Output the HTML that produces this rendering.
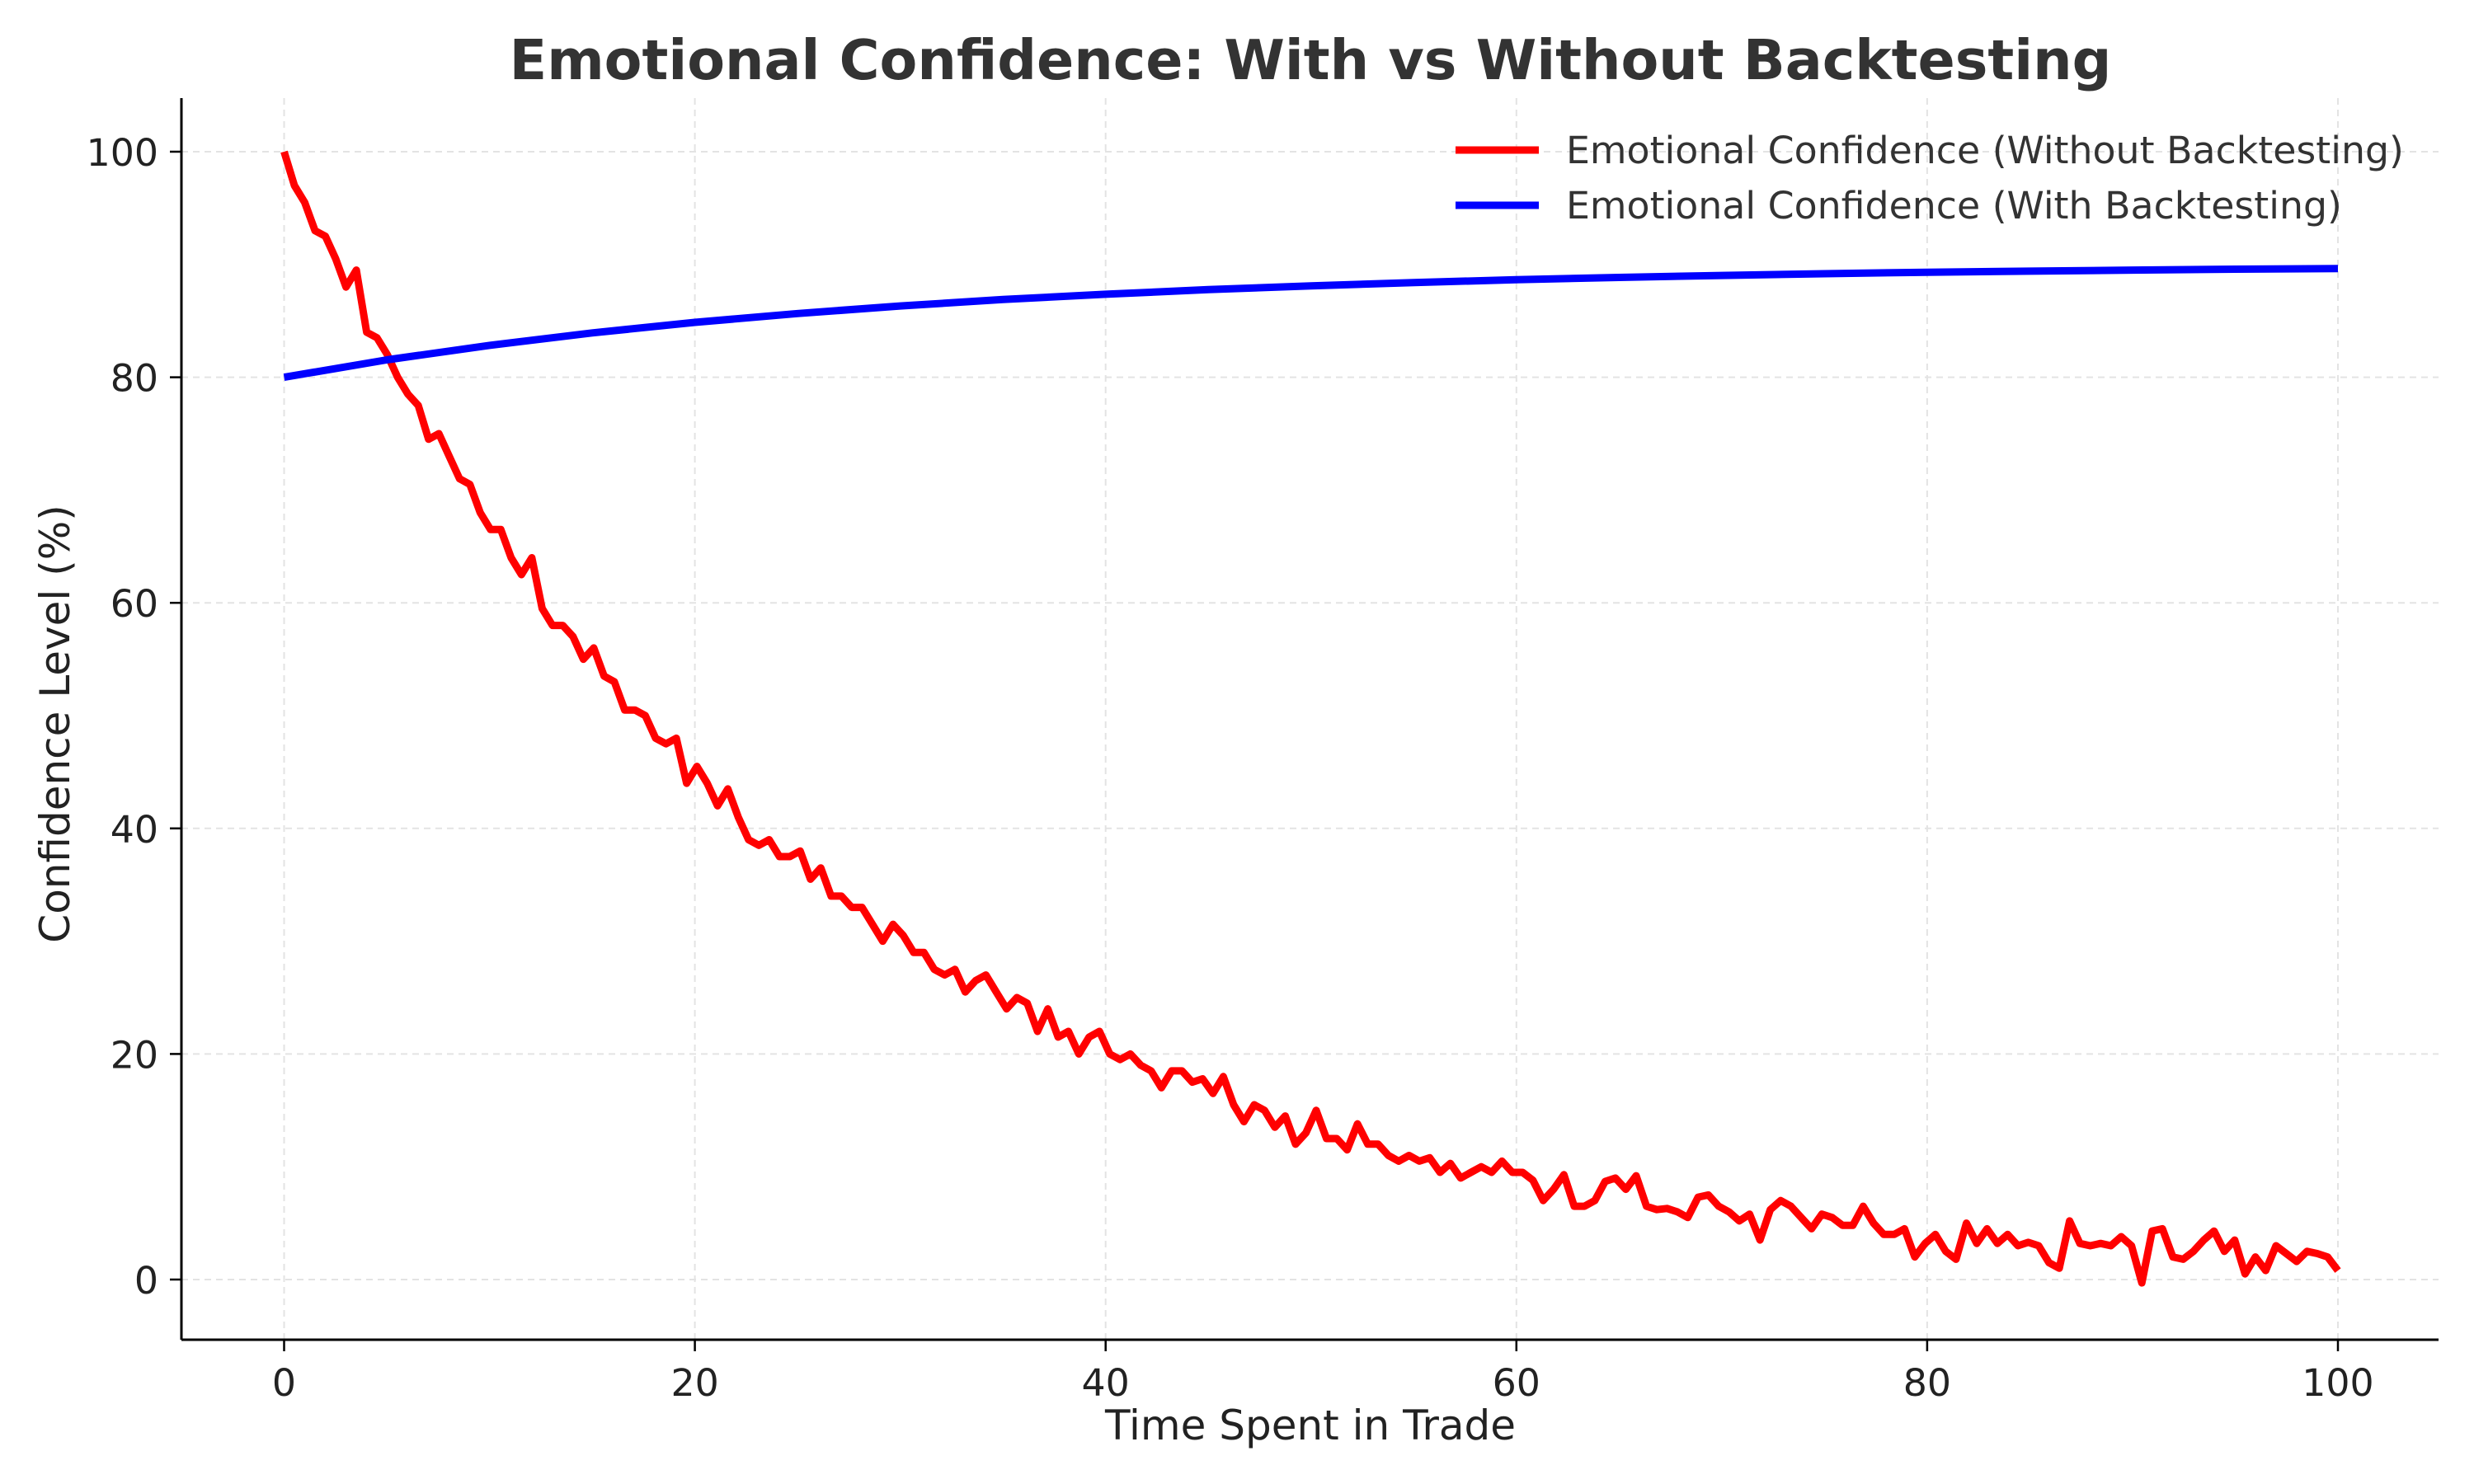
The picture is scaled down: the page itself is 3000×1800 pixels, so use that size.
<!DOCTYPE html>
<html><head><meta charset="utf-8"><style>
html,body{margin:0;padding:0;background:#fff}
svg{display:block;font-family:"DejaVu Sans","Liberation Sans",sans-serif}
</style></head><body>
<svg id="chart" width="3000" height="1800" viewBox="0 0 3000 1800" xmlns="http://www.w3.org/2000/svg">
<rect width="3000" height="1800" fill="#fff"/>
<text x="1589" y="96" text-anchor="middle" font-size="66.7" font-weight="bold" fill="#333">Emotional Confidence: With vs Without Backtesting</text>
<g id="grid"></g>
<g id="axes"></g>
<g id="series"></g>
<text x="1589" y="1746" text-anchor="middle" font-size="50" fill="#222">Time Spent in Trade</text>
<text transform="translate(84,878) rotate(-90)" text-anchor="middle" font-size="50" fill="#222">Confidence Level (%)</text>
<g>
<line x1="1765" y1="182" x2="1866" y2="182" stroke="#ff0000" stroke-width="9"/>
<text x="1899" y="198" font-size="45.8" fill="#333">Emotional Confidence (Without Backtesting)</text>
<line x1="1765" y1="249" x2="1866" y2="249" stroke="#0000ff" stroke-width="9"/>
<text x="1899" y="265" font-size="45.8" fill="#333">Emotional Confidence (With Backtesting)</text>
</g>
</svg>
<script>
const xTicks = [0, 20, 40, 60, 80, 100];
const yTicks = [0, 20, 40, 60, 80, 100];
const withoutValues = [100,97,95.5,93,92.5,90.5,88,89.5,84,83.5,82,80,78.5,77.5,74.5,75,73,71,70.5,68,66.5,66.5,64,62.5,64,59.5,58,58,57,55,56,53.5,53,50.5,50.5,50,48,47.5,48,44,45.5,44,42,43.5,41,39,38.5,39,37.5,37.5,38,35.5,36.5,34,34,33,33,31.5,30,31.5,30.5,29,29,27.5,27,27.5,25.5,26.5,27,25.5,24,25,24.5,22,24,21.5,22,20,21.5,22,20,19.5,20,19,18.5,17,18.5,18.5,17.5,17.8,16.5,18,15.5,14,15.5,15,13.5,14.5,12,13,15,12.5,12.5,11.5,13.8,12,12,11,10.5,11,10.5,10.8,9.5,10.3,9,9.5,10,9.5,10.5,9.5,9.5,8.8,7,8,9.3,6.5,6.5,7,8.7,9,8,9.2,6.5,6.2,6.3,6,5.5,7.3,7.5,6.5,6,5.2,5.8,3.5,6.2,7,6.5,5.5,4.5,5.8,5.5,4.8,4.8,6.5,5,4,4,4.5,2,3.2,4,2.5,1.8,5,3.2,4.5,3.2,4,3,3.3,3,1.5,1,5.2,3.2,3,3.2,3,3.8,3,-0.3,4.3,4.5,2,1.8,2.5,3.5,4.3,2.5,3.5,0.5,2,0.8,3,2.3,1.6,2.5,2.3,2,0.8];
const withX = [0,5,10,15,20,25,30,35,40,45,50,55,60,65,70,75,80,85,90,95,100];
const withValues = [80,81.54,82.83,83.93,84.87,85.65,86.32,86.89,87.36,87.77,88.11,88.4,88.65,88.85,89.03,89.18,89.31,89.41,89.5,89.58,89.64];

const NS = "http://www.w3.org/2000/svg";
const L = 220, R = 2957, T = 119, B = 1625;
function xs(v){ return 344.5 + (v/100)*(2835-344.5); }
function ys(v){ return 1552 - (v/100)*(1552-184); }
function mk(tag, attrs, parent){ const e=document.createElementNS(NS,tag); for(const k in attrs) e.setAttribute(k,attrs[k]); parent.appendChild(e); return e; }

const grid = document.getElementById('grid');
const axes = document.getElementById('axes');
const series = document.getElementById('series');

xTicks.forEach(t=>{
  const g = mk('line',{x1:xs(t),x2:xs(t),y1:T,y2:B,stroke:'#e3e3e3','stroke-width':2,'stroke-dasharray':'8,6'},grid);
  
  
  const tk = mk('line',{x1:xs(t),x2:xs(t),y1:B,y2:B+14,stroke:'#000','stroke-width':2.5},axes);
  
  
  const tx = mk('text',{x:xs(t),y:B+68,'text-anchor':'middle','font-size':45.8,fill:'#222'},axes);
  tx.textContent = t;
  
  
});
yTicks.forEach(t=>{
  const g = mk('line',{x1:L,x2:R,y1:ys(t),y2:ys(t),stroke:'#e3e3e3','stroke-width':2,'stroke-dasharray':'8,6'},grid);
  
  
  const tk = mk('line',{x1:L-14,x2:L,y1:ys(t),y2:ys(t),stroke:'#000','stroke-width':2.5},axes);
  
  
  const tx = mk('text',{x:L-28,y:ys(t)+17,'text-anchor':'end','font-size':45.8,fill:'#222'},axes);
  tx.textContent = t;
  
  
});
const xa = mk('line',{x1:L,x2:R,y1:B,y2:B,stroke:'#000','stroke-width':3},axes);


const ya = mk('line',{x1:L,x2:L,y1:T,y2:B,stroke:'#000','stroke-width':3},axes);



const n = withoutValues.length;
const pRed = withoutValues.map((v,i)=>xs(i*100/(n-1)).toFixed(1)+','+ys(v).toFixed(1)).join(' ');
const red = mk('polyline',{points:pRed,fill:'none',stroke:'#ff0000','stroke-width':9,'stroke-linejoin':'round'},series);


const pBlue = withValues.map((v,i)=>xs(withX[i]).toFixed(1)+','+ys(v).toFixed(1)).join(' ');
const blue = mk('polyline',{points:pBlue,fill:'none',stroke:'#0000ff','stroke-width':9,'stroke-linejoin':'round'},series);


</script>
</body></html>
